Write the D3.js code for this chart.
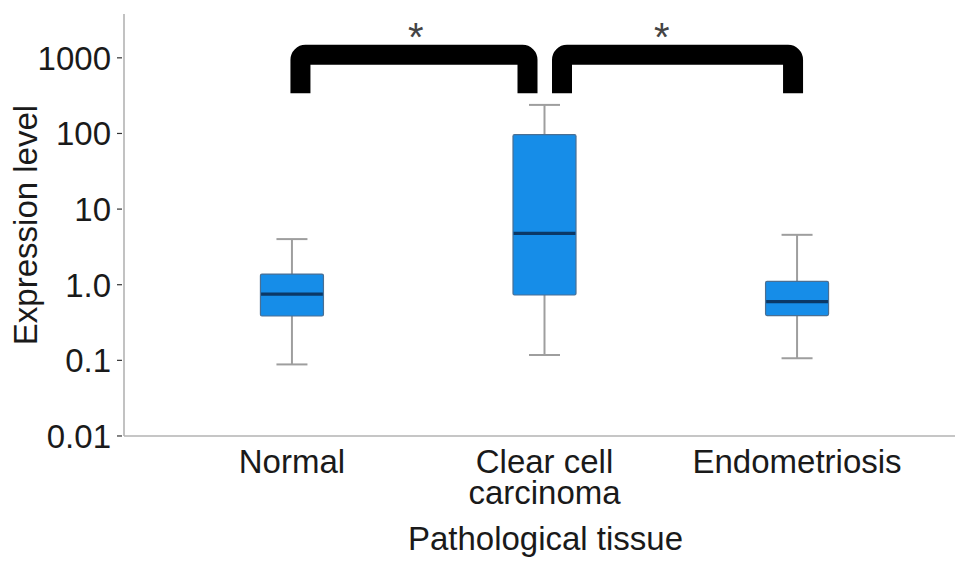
<!DOCTYPE html>
<html>
<head>
<meta charset="utf-8">
<script src="https://cdn.jsdelivr.net/npm/d3@7"></script>
<style>
  html, body { margin: 0; padding: 0; background: #fff; }
  svg text { font-family: "Liberation Sans", Arial, Helvetica, sans-serif; }
</style>
</head>
<body>
<svg id="chart" width="969" height="570"></svg>
<script>
// ---- data ----
const categories = ["Normal", "Clear cell carcinoma", "Endometriosis"];
const categoryLines = [["Normal"], ["Clear cell", "carcinoma"], ["Endometriosis"]];
const whiskerLow  = [0.087, 0.116, 0.105];
const q1          = [0.38, 0.72, 0.385];
const medians     = [0.74, 4.7, 0.59];
const q3          = [1.36, 95, 1.09];
const whiskerHigh = [3.95, 235, 4.5];
const yTickValues = [0.01, 0.1, 1, 10, 100, 1000];
const yTickLabels = ["0.01", "0.1", "1.0", "10", "100", "1000"];
const brackets = [
  { from: "Normal", to: "Clear cell carcinoma", top: 1080, bottom: 335, label: "*" },
  { from: "Clear cell carcinoma", to: "Endometriosis", top: 1080, bottom: 335, label: "*" }
];
const xTitle = "Pathological tissue";
const yTitle = "Expression level";

// ---- layout ----
const svg = d3.select("#chart");
const axisX0 = 124, axisX1 = 955, axisY0 = 436, axisYTop = 14;

const x = d3.scalePoint().domain(categories).range([axisX0, 965]).padding(0.665);
const y = d3.scaleLog().domain([Math.pow(10, -2.04), Math.pow(10, 3.54)]).range([axisY0 + 2.5, axisYTop + 2.5]);

const boxW = 63, capW = 31;
const axisColor = "#b3b3b3";

// axes lines
svg.append("line").attr("x1", axisX0).attr("x2", axisX0).attr("y1", axisYTop).attr("y2", axisY0)
  .attr("stroke", axisColor).attr("stroke-width", 1.6);
svg.append("line").attr("x1", axisX0).attr("x2", axisX1).attr("y1", axisY0).attr("y2", axisY0)
  .attr("stroke", axisColor).attr("stroke-width", 1.6);

// y axis ticks
const yAxis = d3.axisLeft(y).tickValues(yTickValues)
  .tickFormat((d, i) => yTickLabels[i]).tickSize(5).tickPadding(6);
const gy = svg.append("g").attr("transform", `translate(${axisX0 - 2},0)`).call(yAxis);
gy.select(".domain").remove();
gy.selectAll(".tick line").attr("stroke", "#333").attr("stroke-width", 1.2);
gy.selectAll(".tick text").attr("font-size", 33).attr("fill", "#1a1a1a")
  .attr("font-family", "Liberation Sans, Arial, sans-serif").attr("dy", "0.36em");

// x category labels (one text element per line)
categories.forEach((c, i) => {
  categoryLines[i].forEach((ln, j) => {
    svg.append("text").attr("x", x(c)).attr("y", 473 + j * 31)
      .attr("text-anchor", "middle").attr("font-size", 33).attr("fill", "#1a1a1a").text(ln);
  });
});

// titles
svg.append("text").attr("x", (axisX0 + axisX1) / 2 + 6).attr("y", 550)
  .attr("text-anchor", "middle").attr("font-size", 33).attr("fill", "#1a1a1a").text(xTitle);
svg.append("text").attr("transform", `translate(37,225) rotate(-90)`)
  .attr("text-anchor", "middle").attr("font-size", 33).attr("fill", "#1a1a1a").text(yTitle);

// boxplots
const g = svg.append("g");
categories.forEach((c, i) => {
  const cx = x(c);
  g.append("line").attr("x1", cx).attr("x2", cx).attr("y1", y(whiskerHigh[i])).attr("y2", y(q3[i]))
    .attr("stroke", "#9e9e9e").attr("stroke-width", 2);
  g.append("line").attr("x1", cx).attr("x2", cx).attr("y1", y(q1[i])).attr("y2", y(whiskerLow[i]))
    .attr("stroke", "#9e9e9e").attr("stroke-width", 2);
  [whiskerHigh[i], whiskerLow[i]].forEach(v => {
    g.append("line").attr("x1", cx - capW / 2).attr("x2", cx + capW / 2).attr("y1", y(v)).attr("y2", y(v))
      .attr("stroke", "#9e9e9e").attr("stroke-width", 2);
  });
  g.append("rect").attr("x", cx - boxW / 2).attr("width", boxW)
    .attr("y", y(q3[i])).attr("height", y(q1[i]) - y(q3[i]))
    .attr("fill", "#168de8").attr("stroke", "#4a6f93").attr("stroke-width", 1.2).attr("rx", 1.5);
  g.append("line").attr("x1", cx - boxW / 2 + 0.6).attr("x2", cx + boxW / 2 - 0.6)
    .attr("y1", y(medians[i])).attr("y2", y(medians[i]))
    .attr("stroke", "#0b3866").attr("stroke-width", 3.2);
});

// significance brackets
const insets = [[8.5, -17], [17.5, -4]];
const labelShift = [-2.5, -9];
const r = 5;
brackets.forEach((b, i) => {
  const x1 = x(b.from) + insets[i][0], x2 = x(b.to) + insets[i][1];
  const yt = y(b.top), yb = y(b.bottom);
  const p = d3.path();
  p.moveTo(x1, yb);
  p.lineTo(x1, yt + r);
  p.arcTo(x1, yt, x1 + r, yt, r);
  p.lineTo(x2 - r, yt);
  p.arcTo(x2, yt, x2, yt + r, r);
  p.lineTo(x2, yb);
  svg.append("path").attr("d", p.toString()).attr("fill", "none")
    .attr("stroke", "#000").attr("stroke-width", 20).attr("stroke-linejoin", "round");
  const mid = (x(b.from) + x(b.to)) / 2 + labelShift[i];
  svg.append("text").attr("x", mid).attr("y", 51).attr("text-anchor", "middle")
    .attr("font-family", "Liberation Serif, Times New Roman, serif").attr("font-size", 40)
    .attr("fill", "#444").text(b.label);
});
</script>
</body>
</html>
